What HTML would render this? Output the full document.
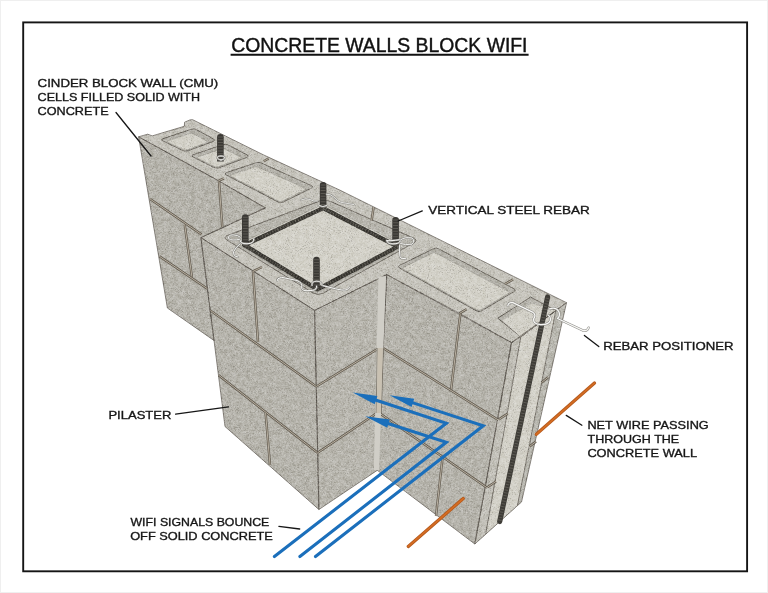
<!DOCTYPE html>
<html><head><meta charset="utf-8"><title>Concrete Walls Block WiFi</title>
<style>
html,body{margin:0;padding:0;background:#fff;}
body{width:768px;height:593px;overflow:hidden;}
svg{display:block;}
text{font-family:"Liberation Sans",sans-serif;}
</style></head>
<body>
<svg width="768" height="593" viewBox="0 0 768 593">
<defs>
<clipPath id="sil"><polygon points="138.6,136.8 147.7,134.2 152.2,135.9 184.3,126.3 184.6,122.2 190.0,119.9 192.6,119.7 263.3,154.8 340.0,190.2 566.5,302.7 521.5,502.0 474.8,544.0 377.3,470.3 318.9,509.5 225.0,426.5 214.0,340.5 167.4,308.0"/></clipPath>
<filter id="nz" x="0" y="0" width="100%" height="100%" color-interpolation-filters="sRGB">
<feTurbulence type="fractalNoise" baseFrequency="0.6" numOctaves="2" seed="7"/>
<feColorMatrix type="matrix" values="1.6 0 0 0 -0.3  1.6 0 0 0 -0.3  1.6 0 0 0 -0.3  0 0 0 0 1"/>
</filter>
<filter id="nz2" x="0" y="0" width="100%" height="100%" color-interpolation-filters="sRGB">
<feTurbulence type="fractalNoise" baseFrequency="0.22" numOctaves="4" seed="3"/>
<feColorMatrix type="matrix" values="2 0 0 0 -0.5  2 0 0 0 -0.5  2 0 0 0 -0.5  0 0 0 0 1"/>
</filter>
<filter id="spd" x="0" y="0" width="100%" height="100%" color-interpolation-filters="sRGB">
<feTurbulence type="fractalNoise" baseFrequency="0.95" numOctaves="1" seed="11"/>
<feColorMatrix type="matrix" values="0 0 0 0 0.33  0 0 0 0 0.32  0 0 0 0 0.29  -9 0 0 0 3.6"/>
</filter>
<filter id="spl" x="0" y="0" width="100%" height="100%" color-interpolation-filters="sRGB">
<feTurbulence type="fractalNoise" baseFrequency="0.95" numOctaves="1" seed="23"/>
<feColorMatrix type="matrix" values="0 0 0 0 0.93  0 0 0 0 0.92  0 0 0 0 0.89  -9 0 0 0 3.6"/>
</filter>
</defs>
<rect x="0" y="0" width="768" height="593" fill="#fff"/>
<rect x="0.5" y="0.5" width="767" height="592" fill="none" stroke="#efefef" stroke-width="1"/>
<rect x="23.2" y="22.4" width="723.9" height="548.9" fill="none" stroke="#151515" stroke-width="1.9"/>
<text x="231.3" y="51.8" font-size="19.6" fill="#111" textLength="296.2" lengthAdjust="spacingAndGlyphs" stroke="#111" stroke-width="0.4">CONCRETE WALLS BLOCK WIFI</text>
<line x1="230.6" y1="54.7" x2="528.6" y2="54.7" stroke="#111" stroke-width="1.9"/>
<g id="wall" stroke-linejoin="round">
<polygon fill="#b6b4ac" points="138.6,136.8 218.5,180.8 265.4,207.9 200.9,237.6 214.0,340.5 167.4,308.0"/>
<polygon fill="#b6b4ac" points="200.9,237.6 314.6,310.4 318.9,509.5 225.0,426.5"/>
<polygon fill="#b8b6ae" points="314.6,310.4 386.7,274.6 377.3,470.3 318.9,509.5"/>
<polygon fill="#b6b4ac" points="386.7,274.6 511.5,342.6 474.8,544.0 377.3,470.3"/>
<polygon fill="#bab9b1" points="511.5,342.6 566.5,302.7 521.5,502.0 474.8,544.0"/>
<polygon fill="#c6c4bc" points="138.6,136.8 147.7,134.2 152.2,135.9 184.3,126.3 184.6,122.2 190.0,119.9 192.6,119.7 263.3,154.8 340.0,190.2 566.5,302.7 520.8,336.9 511.5,342.6 459.5,313.4 386.7,274.6 314.6,310.4 200.9,237.6 265.4,207.9 218.5,180.8"/>
<polygon fill="#d3d1c8" points="520.8,336.9 555.8,310.6 517.4,505.7 485.7,534.2"/>
<polygon fill="#c2c0b8" points="511.5,342.6 520.8,336.9 485.7,534.2 474.8,544.0"/>
<line x1="520.8" y1="336.9" x2="485.7" y2="534.2" stroke="#5a554e" stroke-width="0.7"/>
<line x1="555.8" y1="310.6" x2="517.4" y2="505.7" stroke="#5a554e" stroke-width="0.7"/>
<path fill="#b5b3ab" stroke="#5a554e" stroke-width="0.8" d="M162.9,141.0 Q160.2,139.7 163.0,138.7 L191.2,129.3 Q194.0,128.3 196.6,129.7 L213.4,138.9 Q216.0,140.3 213.2,141.4 L188.3,150.7 Q185.5,151.8 182.8,150.5 Z"/>
<path fill="#d3d1c8" stroke="#8f8c85" stroke-width="0.5" d="M168.3,142.5 Q166.1,141.4 168.5,140.6 L189.4,133.6 Q191.7,132.8 193.9,134.0 L206.2,140.7 Q208.4,141.9 206.1,142.8 L187.6,149.7 Q185.3,150.6 183.0,149.5 Z"/>
<path fill="#b5b3ab" stroke="#5a554e" stroke-width="0.8" d="M193.1,157.0 Q190.4,155.7 193.2,154.7 L223.0,144.7 Q225.8,143.8 228.5,145.1 L247.1,154.9 Q249.8,156.2 247.0,157.3 L219.3,167.7 Q216.5,168.8 213.8,167.4 Z"/>
<path fill="#d3d1c8" stroke="#8f8c85" stroke-width="0.5" d="M198.4,158.6 Q196.1,157.5 198.5,156.7 L221.2,149.0 Q223.5,148.2 225.8,149.4 L239.9,156.7 Q242.1,157.9 239.7,158.7 L218.7,166.7 Q216.3,167.5 214.1,166.4 Z"/>
<path fill="#b5b3ab" stroke="#5a554e" stroke-width="0.8" d="M226.3,175.0 Q223.6,173.6 226.4,172.7 L255.9,162.8 Q258.8,161.9 261.5,163.1 L311.5,185.7 Q314.2,186.9 311.5,188.2 L283.3,202.0 Q280.6,203.3 277.9,201.9 Z"/>
<path fill="#d3d1c8" stroke="#8f8c85" stroke-width="0.5" d="M231.5,176.6 Q229.2,175.4 231.6,174.6 L254.1,167.1 Q256.5,166.4 258.7,167.4 L304.7,188.1 Q306.9,189.1 304.7,190.2 L282.6,201.0 Q280.4,202.1 278.2,200.9 Z"/>
<path fill="#b5b3ab" stroke="#5a554e" stroke-width="0.8" d="M399.6,268.1 Q397.0,266.6 399.7,265.3 L433.3,248.8 Q436.0,247.5 438.7,248.9 L513.9,288.7 Q516.6,290.1 514.0,291.6 L481.6,310.8 Q479.0,312.3 476.4,310.8 Z"/>
<path fill="#d3d1c8" stroke="#8f8c85" stroke-width="0.5" d="M404.0,269.4 Q401.8,268.1 404.1,267.0 L432.0,253.3 Q434.3,252.2 436.5,253.4 L508.1,291.3 Q510.3,292.4 508.1,293.7 L480.9,309.8 Q478.8,311.0 476.6,309.8 Z"/>
<polygon fill="#b5b3ab" stroke="#5a554e" stroke-width="0.8" points="497.8,318.2 530.6,297.1 555.8,310.6 520.8,336.9"/>
<polygon fill="#d3d1c8" points="502.5,320.5 532.0,303.5 555.8,310.6 520.8,336.9"/>
<path fill="#b8b6ae" stroke="#5a554e" stroke-width="0.8" d="M227.5,240.4 Q222.4,237.3 228.0,235.2 L319.4,201.1 Q325.0,199.0 330.5,201.4 L413.2,237.9 Q418.7,240.3 413.4,243.2 L323.3,293.1 Q318.0,296.0 312.9,292.9 Z"/>
<path fill="#d3d1c8" stroke="#8f8c85" stroke-width="0.5" d="M240.8,245.8 Q238.2,244.2 240.9,242.9 L320.5,205.5 Q323.2,204.2 325.8,205.6 L401.5,244.7 Q404.2,246.1 401.5,247.5 L320.1,290.9 Q317.4,292.3 314.9,290.7 Z"/>
<polygon fill="none" stroke="#36342f" stroke-width="4.2" stroke-linejoin="round" points="244.5,245.1 323.1,208.1 397.7,246.7 317.5,289.4"/>
<polygon fill="none" stroke="#64615a" stroke-width="3" stroke-dasharray="1 1.8" opacity="0.8" points="244.5,245.1 323.1,208.1 397.7,246.7 317.5,289.4"/>
<polygon fill="none" stroke="#5a554e" stroke-width="0.7" stroke-linejoin="round" points="138.6,136.8 218.5,180.8 265.4,207.9 200.9,237.6 214.0,340.5 167.4,308.0"/>
<polygon fill="none" stroke="#5a554e" stroke-width="0.7" stroke-linejoin="round" points="200.9,237.6 314.6,310.4 318.9,509.5 225.0,426.5"/>
<polygon fill="none" stroke="#5a554e" stroke-width="0.7" stroke-linejoin="round" points="314.6,310.4 386.7,274.6 377.3,470.3 318.9,509.5"/>
<polygon fill="none" stroke="#5a554e" stroke-width="0.7" stroke-linejoin="round" points="386.7,274.6 511.5,342.6 474.8,544.0 377.3,470.3"/>
<polygon fill="none" stroke="#5a554e" stroke-width="0.7" stroke-linejoin="round" points="511.5,342.6 566.5,302.7 521.5,502.0 474.8,544.0"/>
<polygon fill="none" stroke="#5a554e" stroke-width="0.7" stroke-linejoin="round" points="138.6,136.8 147.7,134.2 152.2,135.9 184.3,126.3 184.6,122.2 190.0,119.9 192.6,119.7 263.3,154.8 340.0,190.2 566.5,302.7 520.8,336.9 511.5,342.6 459.5,313.4 386.7,274.6 314.6,310.4 200.9,237.6 265.4,207.9 218.5,180.8"/>
<rect x="130" y="115" width="445" height="435" fill="#000" filter="url(#nz2)" clip-path="url(#sil)" opacity="0.13" style="mix-blend-mode:overlay"/>
<rect x="130" y="115" width="445" height="435" fill="#000" filter="url(#nz)" clip-path="url(#sil)" opacity="0.22" style="mix-blend-mode:overlay"/>
<rect x="130" y="115" width="445" height="435" fill="#000" filter="url(#spd)" clip-path="url(#sil)" opacity="0.2"/>
<rect x="130" y="115" width="445" height="435" fill="#000" filter="url(#spl)" clip-path="url(#sil)" opacity="0.16"/>
<path d="M219.0,181.2 L222.3,227.0" fill="none" stroke="#625b50" stroke-width="2.4" stroke-linecap="butt"/>
<path d="M219.0,181.2 L222.3,227.0" fill="none" stroke="#c2b9a9" stroke-width="0.9" stroke-linecap="butt"/>
<path d="M150.1,199.0 L201.6,234.5" fill="none" stroke="#625b50" stroke-width="2.4" stroke-linecap="butt"/>
<path d="M150.1,199.0 L201.6,234.5" fill="none" stroke="#c2b9a9" stroke-width="0.9" stroke-linecap="butt"/>
<path d="M184.7,224.5 L192.0,277.5" fill="none" stroke="#625b50" stroke-width="2.4" stroke-linecap="butt"/>
<path d="M184.7,224.5 L192.0,277.5" fill="none" stroke="#c2b9a9" stroke-width="0.9" stroke-linecap="butt"/>
<path d="M159.4,256.3 L207.4,288.7" fill="none" stroke="#625b50" stroke-width="2.4" stroke-linecap="butt"/>
<path d="M159.4,256.3 L207.4,288.7" fill="none" stroke="#c2b9a9" stroke-width="0.9" stroke-linecap="butt"/>
<path d="M253.0,271.4 L258.0,342.0" fill="none" stroke="#625b50" stroke-width="2.4" stroke-linecap="butt"/>
<path d="M253.0,271.4 L258.0,342.0" fill="none" stroke="#c2b9a9" stroke-width="0.9" stroke-linecap="butt"/>
<path d="M210.6,310.6 L316.3,386.5" fill="none" stroke="#625b50" stroke-width="2.4" stroke-linecap="butt"/>
<path d="M210.6,310.6 L316.3,386.5" fill="none" stroke="#c2b9a9" stroke-width="0.9" stroke-linecap="butt"/>
<path d="M218.6,375.2 L317.6,452.8" fill="none" stroke="#625b50" stroke-width="2.4" stroke-linecap="butt"/>
<path d="M218.6,375.2 L317.6,452.8" fill="none" stroke="#c2b9a9" stroke-width="0.9" stroke-linecap="butt"/>
<path d="M265.6,413.0 L270.0,465.0" fill="none" stroke="#625b50" stroke-width="2.4" stroke-linecap="butt"/>
<path d="M265.6,413.0 L270.0,465.0" fill="none" stroke="#c2b9a9" stroke-width="0.9" stroke-linecap="butt"/>
<path d="M316.3,386.5 L379.5,347.8" fill="none" stroke="#625b50" stroke-width="2.4" stroke-linecap="butt"/>
<path d="M316.3,386.5 L379.5,347.8" fill="none" stroke="#c2b9a9" stroke-width="0.9" stroke-linecap="butt"/>
<path d="M317.6,452.8 L377.0,413.0" fill="none" stroke="#625b50" stroke-width="2.4" stroke-linecap="butt"/>
<path d="M317.6,452.8 L377.0,413.0" fill="none" stroke="#c2b9a9" stroke-width="0.9" stroke-linecap="butt"/>
<path d="M460.5,312.5 L451.1,389.5" fill="none" stroke="#625b50" stroke-width="2.4" stroke-linecap="butt"/>
<path d="M460.5,312.5 L451.1,389.5" fill="none" stroke="#c2b9a9" stroke-width="0.9" stroke-linecap="butt"/>
<path d="M381.0,346.8 L498.0,419.8" fill="none" stroke="#625b50" stroke-width="2.4" stroke-linecap="butt"/>
<path d="M381.0,346.8 L498.0,419.8" fill="none" stroke="#c2b9a9" stroke-width="0.9" stroke-linecap="butt"/>
<path d="M378.6,412.5 L486.8,487.6" fill="none" stroke="#625b50" stroke-width="2.4" stroke-linecap="butt"/>
<path d="M378.6,412.5 L486.8,487.6" fill="none" stroke="#c2b9a9" stroke-width="0.9" stroke-linecap="butt"/>
<path d="M442.6,457.2 L436.0,516.0" fill="none" stroke="#625b50" stroke-width="2.4" stroke-linecap="butt"/>
<path d="M442.6,457.2 L436.0,516.0" fill="none" stroke="#c2b9a9" stroke-width="0.9" stroke-linecap="butt"/>
<path d="M498.6,419.6 L507.8,413.6" fill="none" stroke="#625b50" stroke-width="2.4" stroke-linecap="butt"/>
<path d="M498.6,419.6 L507.8,413.6" fill="none" stroke="#c2b9a9" stroke-width="0.9" stroke-linecap="butt"/>
<path d="M541.5,382.5 L548.2,377.2" fill="none" stroke="#625b50" stroke-width="2.4" stroke-linecap="butt"/>
<path d="M541.5,382.5 L548.2,377.2" fill="none" stroke="#c2b9a9" stroke-width="0.9" stroke-linecap="butt"/>
<path d="M487.3,487.3 L496.0,481.4" fill="none" stroke="#625b50" stroke-width="2.4" stroke-linecap="butt"/>
<path d="M487.3,487.3 L496.0,481.4" fill="none" stroke="#c2b9a9" stroke-width="0.9" stroke-linecap="butt"/>
<path d="M529.5,446.5 L536.0,441.5" fill="none" stroke="#625b50" stroke-width="2.4" stroke-linecap="butt"/>
<path d="M529.5,446.5 L536.0,441.5" fill="none" stroke="#c2b9a9" stroke-width="0.9" stroke-linecap="butt"/>
<path d="M218.5,180.8 L224.0,178.3" fill="none" stroke="#625b50" stroke-width="2.4" stroke-linecap="butt"/>
<path d="M218.5,180.8 L224.0,178.3" fill="none" stroke="#c2b9a9" stroke-width="0.9" stroke-linecap="butt"/>
<path d="M263.8,161.2 L268.5,158.5" fill="none" stroke="#625b50" stroke-width="2.4" stroke-linecap="butt"/>
<path d="M263.8,161.2 L268.5,158.5" fill="none" stroke="#c2b9a9" stroke-width="0.9" stroke-linecap="butt"/>
<path d="M459.5,313.4 L466.5,309.2" fill="none" stroke="#625b50" stroke-width="2.4" stroke-linecap="butt"/>
<path d="M459.5,313.4 L466.5,309.2" fill="none" stroke="#c2b9a9" stroke-width="0.9" stroke-linecap="butt"/>
<path d="M505.0,284.0 L513.0,279.5" fill="none" stroke="#625b50" stroke-width="2.4" stroke-linecap="butt"/>
<path d="M505.0,284.0 L513.0,279.5" fill="none" stroke="#c2b9a9" stroke-width="0.9" stroke-linecap="butt"/>
<path d="M253.0,271.4 L262.0,267.0" fill="none" stroke="#625b50" stroke-width="2.4" stroke-linecap="butt"/>
<path d="M253.0,271.4 L262.0,267.0" fill="none" stroke="#c2b9a9" stroke-width="0.9" stroke-linecap="butt"/>
<path d="M371.6,220.5 L373.6,207.2" fill="none" stroke="#625b50" stroke-width="2.4" stroke-linecap="butt"/>
<path d="M371.6,220.5 L373.6,207.2" fill="none" stroke="#c2b9a9" stroke-width="0.9" stroke-linecap="butt"/>
<polygon fill="#d0cec7" points="378.4,277 386,276 379,470 373.8,470"/>
<path d="M377.3,348 L376.2,413 M383.3,348 L381.3,413" stroke="#6a6358" stroke-width="0.8" fill="none"/>
<polygon fill="#c9c1b2" points="377.7,348 382.9,348 380.9,413 376.6,413"/>
<path d="M217.1,161.5 L217.1,137.2 A3.3,3.3 0 0 1 223.7,137.2 L223.7,161.5 Z" fill="#3a3834"/>
<line x1="220.4" y1="136.4" x2="220.4" y2="161.5" stroke="#64615a" stroke-width="5.0" stroke-dasharray="1 1.8" opacity="0.8"/>
<path d="M242.0,246.0 L242.0,217.6 A3.3,3.3 0 0 1 248.6,217.6 L248.6,246.0 Z" fill="#3a3834"/>
<line x1="245.3" y1="216.8" x2="245.3" y2="246.0" stroke="#64615a" stroke-width="5.0" stroke-dasharray="1 1.8" opacity="0.8"/>
<path d="M319.8,208.0 L319.8,185.3 A3.3,3.3 0 0 1 326.4,185.3 L326.4,208.0 Z" fill="#3a3834"/>
<line x1="323.1" y1="184.5" x2="323.1" y2="208.0" stroke="#64615a" stroke-width="5.0" stroke-dasharray="1 1.8" opacity="0.8"/>
<path d="M392.3,246.0 L392.3,220.3 A3.3,3.3 0 0 1 398.9,220.3 L398.9,246.0 Z" fill="#3a3834"/>
<line x1="395.6" y1="219.5" x2="395.6" y2="246.0" stroke="#64615a" stroke-width="5.0" stroke-dasharray="1 1.8" opacity="0.8"/>
<path d="M313.2,289.0 L313.2,260.0 A3.3,3.3 0 0 1 319.8,260.0 L319.8,289.0 Z" fill="#3a3834"/>
<line x1="316.5" y1="259.2" x2="316.5" y2="289.0" stroke="#64615a" stroke-width="5.0" stroke-dasharray="1 1.8" opacity="0.8"/>
<line x1="547.6" y1="297" x2="499.7" y2="521.5" stroke="#3e3c37" stroke-width="5.2" stroke-linecap="round"/>
<line x1="547.6" y1="298" x2="499.7" y2="521" stroke="#64615a" stroke-width="3.6" stroke-dasharray="1 1.8" opacity="0.8"/>
<path d="M507.8,305.8 Q508,302.6 512.4,302.4 L532.6,312.1 Q536.5,315 533.8,318.5 Q532.5,323.8 540.5,324.6 Q548.5,325 550.2,320.8 Q551,316.5 548.6,315.5 M549.5,308.9 Q556,306.5 559,312 Q560.5,316 557.5,318.5 L583.3,330.6 Q587.5,331.2 588.6,327.6" fill="none" stroke="#8c8b86" stroke-width="2.3" stroke-linejoin="round" stroke-linecap="round"/>
<path d="M507.8,305.8 Q508,302.6 512.4,302.4 L532.6,312.1 Q536.5,315 533.8,318.5 Q532.5,323.8 540.5,324.6 Q548.5,325 550.2,320.8 Q551,316.5 548.6,315.5 M549.5,308.9 Q556,306.5 559,312 Q560.5,316 557.5,318.5 L583.3,330.6 Q587.5,331.2 588.6,327.6" fill="none" stroke="#f7f7f5" stroke-width="1.3" stroke-linejoin="round" stroke-linecap="round"/>
<path d="M253.8,238.8 Q254.5,243.6 247,243.8 Q240,243.8 240.2,240.6" fill="none" stroke="#8c8b86" stroke-width="2.0" stroke-linejoin="round" stroke-linecap="round"/>
<path d="M253.8,238.8 Q254.5,243.6 247,243.8 Q240,243.8 240.2,240.6" fill="none" stroke="#f7f7f5" stroke-width="1.0" stroke-linejoin="round" stroke-linecap="round"/>
<path d="M240.2,243.6 Q236,247 233.6,251.6 Q233,256.5 237.8,257" fill="none" stroke="#8c8b86" stroke-width="2.0" stroke-linejoin="round" stroke-linecap="round"/>
<path d="M240.2,243.6 Q236,247 233.6,251.6 Q233,256.5 237.8,257" fill="none" stroke="#f7f7f5" stroke-width="1.0" stroke-linejoin="round" stroke-linecap="round"/>
<path d="M240,239.2 Q232,241.2 228.6,238.6 Q227.6,235 233,234.8 Q238,235 240.4,237.2" fill="none" stroke="#8c8b86" stroke-width="1.9" stroke-linejoin="round" stroke-linecap="round"/>
<path d="M240,239.2 Q232,241.2 228.6,238.6 Q227.6,235 233,234.8 Q238,235 240.4,237.2" fill="none" stroke="#f7f7f5" stroke-width="0.9" stroke-linejoin="round" stroke-linecap="round"/>
<path d="M277,280.6 Q276.6,278.4 281.7,277.3 L297,280.5 Q303,283 301.7,287 Q301.2,290.4 306,290.7 L312.5,290.5 Q317.5,289.2 316.6,286.2" fill="none" stroke="#8c8b86" stroke-width="2.0" stroke-linejoin="round" stroke-linecap="round"/>
<path d="M277,280.6 Q276.6,278.4 281.7,277.3 L297,280.5 Q303,283 301.7,287 Q301.2,290.4 306,290.7 L312.5,290.5 Q317.5,289.2 316.6,286.2" fill="none" stroke="#f7f7f5" stroke-width="1.0" stroke-linejoin="round" stroke-linecap="round"/>
<path d="M321.5,285.3 L335.6,288.8 Q343,290.6 346,289.9 Q349.5,289 349.7,287" fill="none" stroke="#8c8b86" stroke-width="2.0" stroke-linejoin="round" stroke-linecap="round"/>
<path d="M321.5,285.3 L335.6,288.8 Q343,290.6 346,289.9 Q349.5,289 349.7,287" fill="none" stroke="#f7f7f5" stroke-width="1.0" stroke-linejoin="round" stroke-linecap="round"/>
<path d="M312,285.5 Q311,281.5 316.5,281.2 Q322.5,281.3 322,285" fill="none" stroke="#8c8b86" stroke-width="1.8" stroke-linejoin="round" stroke-linecap="round"/>
<path d="M312,285.5 Q311,281.5 316.5,281.2 Q322.5,281.3 322,285" fill="none" stroke="#f7f7f5" stroke-width="0.8" stroke-linejoin="round" stroke-linecap="round"/>
<path d="M401,239.5 Q388,241.5 386.8,240.6 M386.8,240.6 Q387,243.8 393,243.9 Q399.5,243.9 400.4,241" fill="none" stroke="#8c8b86" stroke-width="2.0" stroke-linejoin="round" stroke-linecap="round"/>
<path d="M401,239.5 Q388,241.5 386.8,240.6 M386.8,240.6 Q387,243.8 393,243.9 Q399.5,243.9 400.4,241" fill="none" stroke="#f7f7f5" stroke-width="1.0" stroke-linejoin="round" stroke-linecap="round"/>
<path d="M400.4,240 Q405,236.5 412,238 Q415.5,241 412,244.2 Q405,245.5 400.5,243.5" fill="none" stroke="#8c8b86" stroke-width="1.9" stroke-linejoin="round" stroke-linecap="round"/>
<path d="M400.4,240 Q405,236.5 412,238 Q415.5,241 412,244.2 Q405,245.5 400.5,243.5" fill="none" stroke="#f7f7f5" stroke-width="0.9" stroke-linejoin="round" stroke-linecap="round"/>
<path d="M399.6,245.5 L399.6,252 Q399.5,257.5 401,258.2 L405.6,258.7" fill="none" stroke="#8c8b86" stroke-width="2.0" stroke-linejoin="round" stroke-linecap="round"/>
<path d="M399.6,245.5 L399.6,252 Q399.5,257.5 401,258.2 L405.6,258.7" fill="none" stroke="#f7f7f5" stroke-width="1.0" stroke-linejoin="round" stroke-linecap="round"/>
<path d="M301,200 Q306,197.5 310,199.5 Q314,202 317.5,201" fill="none" stroke="#8c8b86" stroke-width="1.8" stroke-linejoin="round" stroke-linecap="round"/>
<path d="M301,200 Q306,197.5 310,199.5 Q314,202 317.5,201" fill="none" stroke="#f7f7f5" stroke-width="0.8" stroke-linejoin="round" stroke-linecap="round"/>
<path d="M326.5,194.2 Q331,194 333.8,197 Q337,201 341,202.3 L353.8,204.6" fill="none" stroke="#8c8b86" stroke-width="1.8" stroke-linejoin="round" stroke-linecap="round"/>
<path d="M326.5,194.2 Q331,194 333.8,197 Q337,201 341,202.3 L353.8,204.6" fill="none" stroke="#f7f7f5" stroke-width="0.8" stroke-linejoin="round" stroke-linecap="round"/>
<path d="M319.2,205.6 Q322.8,207.8 326.6,205.6" fill="none" stroke="#8c8b86" stroke-width="1.8" stroke-linejoin="round" stroke-linecap="round"/>
<path d="M319.2,205.6 Q322.8,207.8 326.6,205.6" fill="none" stroke="#f7f7f5" stroke-width="0.8" stroke-linejoin="round" stroke-linecap="round"/>
<path d="M221,160 C216,159 216,156 221,156 C226,156 226,159 221,160" fill="none" stroke="#8c8b86" stroke-width="1.9" stroke-linejoin="round" stroke-linecap="round"/>
<path d="M221,160 C216,159 216,156 221,156 C226,156 226,159 221,160" fill="none" stroke="#f7f7f5" stroke-width="0.9" stroke-linejoin="round" stroke-linecap="round"/>
<line x1="408.3" y1="546.4" x2="463.2" y2="498.6" stroke="#b45a1e" stroke-width="3.3" stroke-linecap="round"/>
<line x1="408.3" y1="546.4" x2="463.2" y2="498.6" stroke="#d66d22" stroke-width="1.6" stroke-linecap="round"/>
<line x1="536.3" y1="434.3" x2="594.5" y2="383" stroke="#b45a1e" stroke-width="3.3" stroke-linecap="round"/>
<line x1="536.3" y1="434.3" x2="594.5" y2="383" stroke="#d66d22" stroke-width="1.6" stroke-linecap="round"/>
<path d="M274.4,556.5 L446.3,423.3 L373.2,399.2" fill="none" stroke="#1b6fbb" stroke-width="3.1" stroke-linejoin="miter" stroke-linecap="round"/>
<polygon fill="#1b6fbb" points="352.8,392.5 377.4,396.1 374.7,404.2"/>
<path d="M299.9,556.5 L446.3,442.3 L385.7,422.8" fill="none" stroke="#1b6fbb" stroke-width="3.1" stroke-linejoin="miter" stroke-linecap="round"/>
<polygon fill="#1b6fbb" points="365.2,416.2 389.8,419.6 387.2,427.8"/>
<path d="M315.5,556.5 L483.2,425.8 L410.0,401.9" fill="none" stroke="#1b6fbb" stroke-width="3.1" stroke-linejoin="miter" stroke-linecap="round"/>
<polygon fill="#1b6fbb" points="389.6,395.2 414.2,398.7 411.6,406.9"/>
</g>
<g fill="#161616" stroke="#161616" stroke-width="0.35" font-size="11.6">
<text x="37.6" y="87.4" textLength="180.6" lengthAdjust="spacingAndGlyphs">CINDER BLOCK WALL (CMU)</text>
<text x="37.6" y="100.9" textLength="162.4" lengthAdjust="spacingAndGlyphs">CELLS FILLED SOLID WITH</text>
<text x="37.6" y="115.3" textLength="71" lengthAdjust="spacingAndGlyphs">CONCRETE</text>
<text x="428.2" y="213.6" textLength="161.6" lengthAdjust="spacingAndGlyphs">VERTICAL STEEL REBAR</text>
<text x="603.2" y="350.4" textLength="130.4" lengthAdjust="spacingAndGlyphs">REBAR POSITIONER</text>
<text x="587.4" y="428.5" textLength="121.4" lengthAdjust="spacingAndGlyphs">NET WIRE PASSING</text>
<text x="587.6" y="442.6" textLength="91.6" lengthAdjust="spacingAndGlyphs">THROUGH THE</text>
<text x="587.4" y="456.7" textLength="109.6" lengthAdjust="spacingAndGlyphs">CONCRETE WALL</text>
<text x="108.4" y="419.1" textLength="63" lengthAdjust="spacingAndGlyphs">PILASTER</text>
<text x="130.5" y="525.8" textLength="138.8" lengthAdjust="spacingAndGlyphs">WIFI SIGNALS BOUNCE</text>
<text x="130.2" y="539.6" textLength="142.6" lengthAdjust="spacingAndGlyphs">OFF SOLID CONCRETE</text>
</g>
<g stroke="#161616" stroke-width="1.3" stroke-linecap="round">
<line x1="116" y1="112.5" x2="151" y2="156"/>
<line x1="422.3" y1="210.9" x2="398.2" y2="221"/>
<line x1="584.4" y1="335.5" x2="598.8" y2="346.6"/>
<line x1="566.25" y1="415.4" x2="581.9" y2="425.2"/>
<line x1="175.6" y1="414.1" x2="228.5" y2="406.8"/>
<line x1="278.9" y1="526.4" x2="299.7" y2="529"/>
</g>
</svg>
</body></html>
